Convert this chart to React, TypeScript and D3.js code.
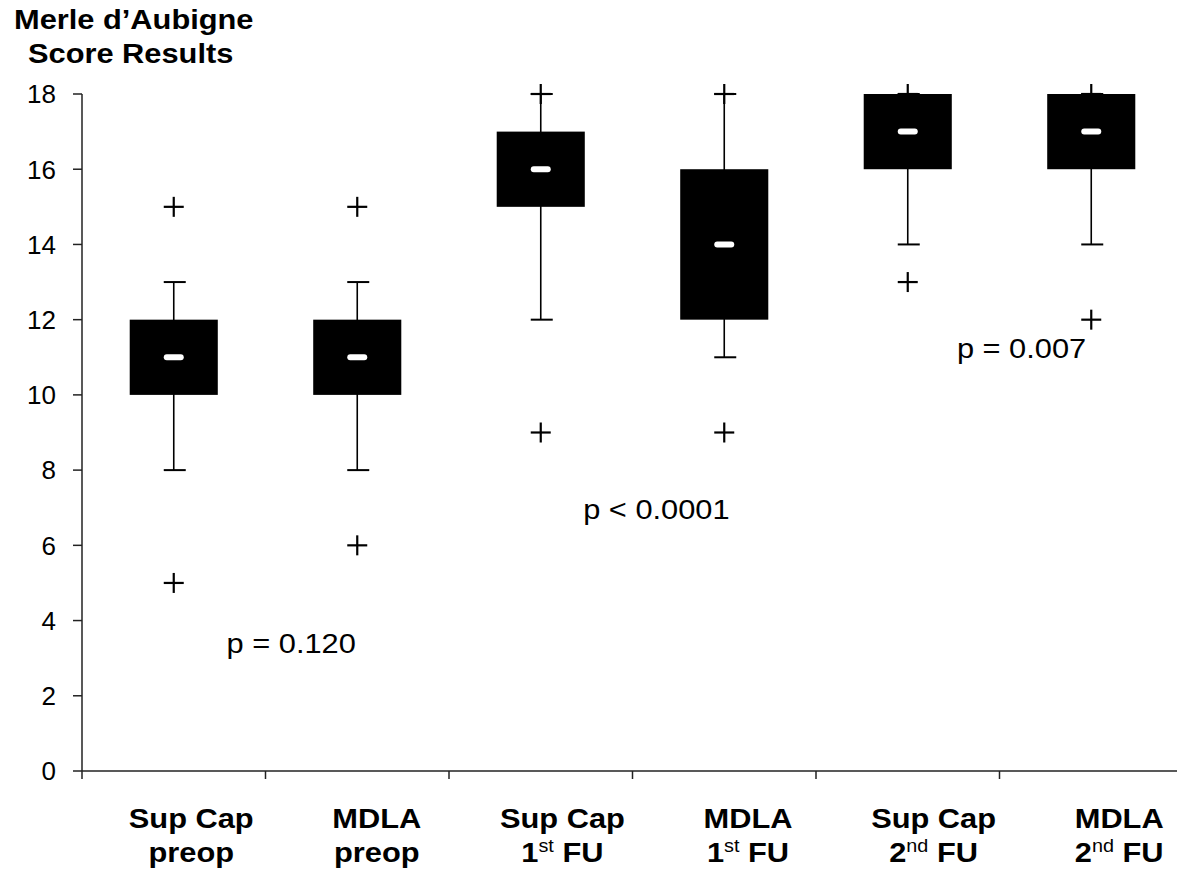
import React from "react";
import * as d3 from "d3";

// Merle d'Aubigne scores per group
const groups = ["supPreop", "mdlaPreop", "sup1", "mdla1", "sup2", "mdla2"];
const labelTop = ["Sup Cap", "MDLA", "Sup Cap", "MDLA", "Sup Cap", "MDLA"];
const labelNum = ["", "", "1", "1", "2", "2"];
const labelSup = ["", "", "st", "st", "nd", "nd"];
const labelBottom = ["preop", "preop", "FU", "FU", "FU", "FU"];

const whiskerLow = [8, 8, 12, 11, 14, 14];
const q1 = [10, 10, 15, 12, 16, 16];
const median = [11, 11, 16, 14, 17, 17];
const q3 = [12, 12, 17, 16, 18, 18];
const whiskerHigh = [13, 13, 18, 18, 18, 18];
const outliers = [
  [15, 5],
  [15, 6],
  [18, 9],
  [18, 9],
  [18, 13],
  [18, 12],
];

const yTicks = [0, 2, 4, 6, 8, 10, 12, 14, 16, 18];

const pValues = [
  { text: "p = 0.120", at: 0.64, value: 3.14 },
  { text: "p < 0.0001", at: 2.63, value: 6.7 },
  { text: "p = 0.007", at: 4.62, value: 10.98 },
];

const W = 1177;
const H = 880;
const FONT = "Arial, 'Liberation Sans', sans-serif";
const STRETCH = 1.1; // the source picture's text is a little wide

export default function App() {
  const left = 82;
  const x = d3
    .scaleBand<string>()
    .domain(groups)
    .range([left, left + 6 * 183.5])
    .paddingInner(0)
    .paddingOuter(0);
  const y = d3.scaleLinear().domain([0, 18]).range([771, 94]);

  const bw = x.bandwidth() * 0.48;
  const cx = (i: number) => (x(groups[i]) as number) + x.bandwidth() / 2;
  // category labels sit a bit right of the boxes in the original
  const labelX = (i: number) => cx(i) * 1.0114 + 15.5;

  const xTickPos = groups.map((g) => x(g) as number);
  const bandPos = (f: number) => left + f * x.bandwidth() + x.bandwidth() / 2;

  return (
    <svg
      width={W}
      height={H}
      style={{ position: "absolute", left: 0, top: 0, background: "#fff" }}
      fontFamily={FONT}
    >
      {/* title */}
      <text transform={`translate(14,29) scale(${STRETCH},1)`} fontSize={28} fontWeight="bold">
        Merle d’Aubigne
      </text>
      <text transform={`translate(28,63) scale(${STRETCH},1)`} fontSize={28} fontWeight="bold">
        Score Results
      </text>

      {/* y axis */}
      <line x1={left} x2={left} y1={y(18)} y2={y(0)} stroke="#222" strokeWidth={1.5} />
      {yTicks.map((t) => (
        <g key={t}>
          <line x1={left - 9} x2={left} y1={y(t)} y2={y(t)} stroke="#222" strokeWidth={1.5} />
          <text x={56} y={y(t)} dy="0.36em" textAnchor="end" fontSize={26}>
            {t}
          </text>
        </g>
      ))}

      {/* x axis */}
      <line x1={left} x2={W} y1={y(0)} y2={y(0)} stroke="#222" strokeWidth={1.5} />
      {xTickPos.map((p, i) => (
        <line key={i} x1={p} x2={p} y1={y(0)} y2={y(0) + 8} stroke="#222" strokeWidth={1.5} />
      ))}

      {/* boxes */}
      {groups.map((g, i) => {
        const c = cx(i);
        return (
          <g key={g}>
            <line x1={c} x2={c} y1={y(whiskerLow[i])} y2={y(whiskerHigh[i])} stroke="#000" strokeWidth={1.6} />
            <line x1={c - 10} x2={c + 12} y1={y(whiskerLow[i])} y2={y(whiskerLow[i])} stroke="#000" strokeWidth={2} />
            <line x1={c - 10} x2={c + 12} y1={y(whiskerHigh[i])} y2={y(whiskerHigh[i])} stroke="#000" strokeWidth={2} />
            <rect x={c - bw / 2} y={y(q3[i])} width={bw} height={y(q1[i]) - y(q3[i])} fill="#000" />
            <rect x={c - 10} y={y(median[i]) - 3} width={20} height={6} rx={3} fill="#fff" />
            {outliers[i].map((o, k) => (
              <g key={k} stroke="#000" strokeWidth={2.2}>
                <line x1={c - 10} x2={c + 10} y1={y(o)} y2={y(o)} />
                <line x1={c} x2={c} y1={y(o) - 10} y2={y(o) + 10} />
              </g>
            ))}
          </g>
        );
      })}

      {/* x labels */}
      {groups.map((g, i) => {
        const lx = labelX(i);
        return (
          <g key={g} fontWeight="bold" fontSize={28} textAnchor="middle">
            <text transform={`translate(${lx},828) scale(${STRETCH},1)`}>{labelTop[i]}</text>
            <text transform={`translate(${lx},862) scale(${STRETCH},1)`}>
              {labelNum[i]}
              {labelSup[i] && (
                <tspan fontSize={18} fontWeight="normal" dy={-10}>
                  {labelSup[i]}
                </tspan>
              )}
              {labelSup[i] ? <tspan dy={10}>{" " + labelBottom[i]}</tspan> : labelBottom[i]}
            </text>
          </g>
        );
      })}

      {/* p values */}
      {pValues.map((p) => (
        <text
          key={p.text}
          transform={`translate(${bandPos(p.at)},${y(p.value)}) scale(${STRETCH},1)`}
          textAnchor="middle"
          fontSize={28}
        >
          {p.text}
        </text>
      ))}
    </svg>
  );
}
